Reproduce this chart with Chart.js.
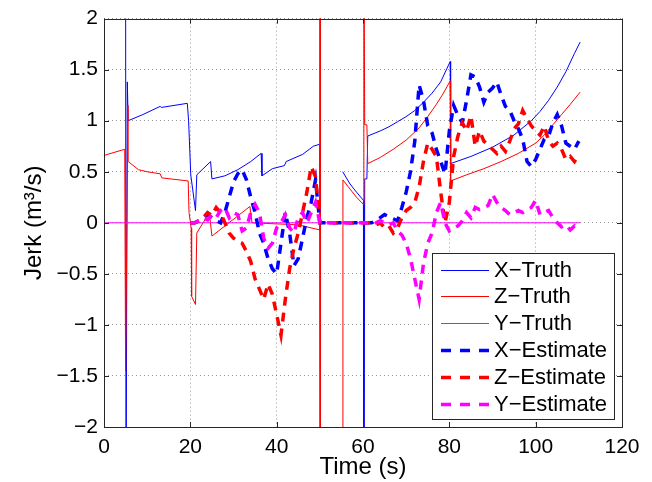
<!DOCTYPE html>
<html>
<head>
<meta charset="utf-8">
<script src="https://cdn.jsdelivr.net/npm/chart.js@4.4.1/dist/chart.umd.min.js"></script>
<style>
  html, body { margin: 0; padding: 0; background: #fff; }
  #graph { display: block; }
</style>
</head>
<body>
<canvas id="graph" width="652" height="482"></canvas>
<script>
// truth curves (time, value) -- null breaks the line
const xTruthT = [5.0, 5.1, 5.4, 5.6, 9, 13.0, 13.3, 19.3, 19.6, 20.1, 21.2, 21.5, 24.7, 25.0, 28, 31, 34, 36.4, 36.6, 39, 41.8, 42.2, 46, 48.5, 50.0, 50.1, 52,
    55.3, 57, 58.5, 60.1, 60.2, 60.4, 60.9, 61.1, 64, 66, 68, 70, 72, 74, 76, 78, 80.2, 80.3, 85, 90, 95, 99, 101, 103, 105, 107, 109, 110.3]
const xTruthV = [3, -3, 1.38, 1.0, 1.06, 1.14, 1.13, 1.17, 1.0, 0.47, 0.12, 0.47, 0.6, 0.43, 0.46, 0.52, 0.6, 0.68, 0.46, 0.53, 0.56, 0.6, 0.67, 0.75, 0.77, -3, null,
    0.5, 0.38, 0.3, 0.22, -3, 0.43, 0.43, 0.85, 0.9, 0.94, 0.99, 1.04, 1.1, 1.18, 1.27, 1.38, 1.58, 0.58, 0.65, 0.74, 0.86, 1.0, 1.09, 1.2, 1.33, 1.48, 1.66, 1.77]

const zTruthT = [0, 4.8, 5.0, 5.55, 5.6, 8, 10, 13.0, 13.4, 19.5, 19.7, 20.2, 20.3, 21.2, 21.5, 24.4, 25.0, 33.8, 34.3, 45, 50.0, 50.05, 50.1, 52,
    55.3, 55.35, 57, 58.5, 60.1, 60.2, 60.4, 60.9, 61.1, 64, 67, 70, 73, 75, 77, 78.5, 80.2, 80.3, 84, 88, 92, 96, 100, 102, 104, 106, 108, 110.3]
const zTruthV = [0.66, 0.72, -1.45, 1.15, 0.6, 0.52, 0.5, 0.48, 0.44, 0.41, 0.1, -0.05, -0.72, -0.8, -0.1, 0.1, -0.13, 0.16, 0.0, -0.02, -0.07, 3, -3, null,
    -3, 0.42, 0.33, 0.25, 0.18, 3, 0.96, 0.96, 0.58, 0.64, 0.72, 0.81, 0.93, 1.04, 1.16, 1.26, 1.39, 0.41, 0.47, 0.53, 0.6, 0.68, 0.78, 0.86, 0.96, 1.06, 1.16, 1.28]

const yTruthT = [0, 110.3]
const yTruthV = [0, 0]

// estimates, one value per second from 20 s to 110 s
const estT = Array.from({length: 91}, (_, i) => 20 + i)
const xEst = [0, 0, 0.02, 0.05, 0.08, 0.05, 0.02, 0.0, 0.1, 0.25, 0.4, 0.48, 0.52, 0.42, 0.25, 0.1, -0.1, -0.2, -0.35, -0.45,
    -0.5, -0.2, 0.1, -0.1, -0.42, -0.35, -0.15, 0.05, 0.2, 0.42,
    0, 0, 0, 0, 0, 0, 0, 0, 0, 0, 0,
    0, 0, 0.02, 0.05, 0.08, 0.06, 0.04, 0.02, 0.15, 0.3, 0.5, 0.8, 1.35, 1.2, 0.95, 0.88, 0.72, 0.6, 0.48, 0.9,
    1.15, 1.05, 0.98, 1.2, 1.45, 1.43, 1.33, 1.18, 1.28, 1.32, 1.38, 1.25, 1.14, 1.1, 1.0, 0.92, 0.82, 0.6, 0.55, 0.62,
    0.72, 0.82, 0.85, 0.98, 1.06, 0.95, 0.78, 0.75, 0.72, 0.8]
const zEst = [0, 0, 0.02, 0.05, 0.1, 0.07, 0.15, 0.1, 0.0, -0.1, -0.15, -0.18, -0.2, -0.28, -0.38, -0.55, -0.65, -0.75, -0.6, -0.7,
    -0.9, -1.1, -0.75, -0.45, -0.25, -0.1, 0.1, 0.3, 0.55, 0.45,
    0, 0, 0, 0, 0, 0, 0, 0, 0, 0, 0,
    0, 0, -0.02, 0.0, -0.05, -0.03, -0.1, -0.05, 0.05, 0.12, 0.15, 0.2, 0.35, 0.6, 0.78, 0.72, 0.65, 0.3, 0.0, 0.2,
    0.65, 0.85, 0.98, 0.9, 1.05, 0.75, 0.9, 0.8, 0.76, 0.72, 0.68, 0.75, 0.7, 0.8, 0.92, 0.97, 1.1, 1.02, 0.95, 0.9,
    0.86, 0.95, 0.8, 0.75, 0.78, 0.72, 0.62, 0.65, 0.6, 0.66]
const yEst = [0, 0, 0.02, 0.05, 0.03, 0.08, 0.05, 0.12, 0.15, 0.05, 0.1, 0.08, -0.08, -0.05, 0.1, 0.18, 0.1, -0.15, -0.25, -0.2,
    -0.05, 0.0, 0.08, -0.05, -0.1, 0.05, 0.1, 0.0, 0.1, 0.2,
    0, 0, 0, 0, 0, 0, 0, 0, 0, 0, 0,
    0, 0, 0.0, 0.02, 0.0, -0.02, 0.0, -0.08, -0.12, -0.2, -0.35, -0.55, -0.75, -0.4, -0.2, -0.1, 0.1, 0.2, 0.0, -0.08,
    -0.05, -0.03, 0.02, 0.1, 0.05, 0.15, 0.13, 0.15, 0.17, 0.28, 0.2, 0.15, 0.12, 0.08, 0.1, 0.12, 0.1, 0.13, 0.15, 0.22,
    0.08, 0.1, 0.12, 0.05, 0.0, -0.04, -0.02, -0.07, -0.03, -0.07]

const xTicks = [0, 20, 40, 60, 80, 100, 120]
const yTicks = [-2, -1.5, -1, -0.5, 0, 0.5, 1, 1.5, 2]

const FONT = "'Liberation Sans', Arial, sans-serif"
const pts = (t, v) => t.map((x, i) => ({x: x, y: v[i]}))

function truth(label, t, v, color, order) {
    return {label, data: pts(t, v), borderColor: color, borderWidth: 1, pointRadius: 0, order}
}
function estimate(label, v, color, order) {
    return {label, data: pts(estT, v), borderColor: color, borderWidth: 3.5, borderDash: [9, 7], pointRadius: 0, order}
}

// box round the axes, with inward ticks on all four sides
const frame = {
    id: "frame",
    afterDatasetsDraw(chart) {
        const {ctx, chartArea: a, scales} = chart
        ctx.save()
        ctx.strokeStyle = "#262626"
        ctx.lineWidth = 1
        ctx.beginPath()
        for (const v of xTicks) {
            const px = Math.round(scales.x.getPixelForValue(v)) + 0.5
            ctx.moveTo(px, a.bottom); ctx.lineTo(px, a.bottom - 5)
            ctx.moveTo(px, a.top); ctx.lineTo(px, a.top + 5)
        }
        for (const v of yTicks) {
            const py = Math.round(scales.y.getPixelForValue(v)) + 0.5
            ctx.moveTo(a.left, py); ctx.lineTo(a.left + 5, py)
            ctx.moveTo(a.right, py); ctx.lineTo(a.right - 5, py)
        }
        ctx.stroke()
        ctx.strokeRect(Math.round(a.left) + 0.5, Math.round(a.top) + 0.5, Math.round(a.right - a.left), Math.round(a.bottom - a.top))
        ctx.restore()
    }
}

// legend box inside the lower right corner of the plot
const boxLegend = {
    id: "boxLegend",
    afterDraw(chart) {
        const ctx = chart.ctx
        const x0 = 432, y0 = 253, w = 182, h = 166
        ctx.save()
        ctx.fillStyle = "#fff"
        ctx.fillRect(x0, y0, w, h)
        ctx.strokeStyle = "#262626"
        ctx.lineWidth = 1
        ctx.strokeRect(x0 + 0.5, y0 + 0.5, w, h)
        ctx.font = "22px " + FONT
        ctx.textBaseline = "middle"
        ctx.fillStyle = "#000"
        chart.data.datasets.forEach((ds, i) => {
            const y = Math.round(y0 + 16.5 + i * 26.8)
            ctx.strokeStyle = ds.borderColor
            ctx.lineWidth = ds.borderWidth
            ctx.setLineDash(ds.borderDash ? [10, 9] : [])
            ctx.beginPath()
            ctx.moveTo(441, y + 0.5)
            ctx.lineTo(489, y + 0.5)
            ctx.stroke()
            ctx.fillText(ds.label, 494, y + 1)
        })
        ctx.restore()
    }
}

const ctx = document.getElementById("graph").getContext("2d")

new Chart(ctx, {
    type: "line",
    data: {
        datasets: [
            truth("X\u2212Truth", xTruthT, xTruthV, "rgb(0,0,255)", 6),
            truth("Z\u2212Truth", zTruthT, zTruthV, "rgb(255,0,0)", 5),
            truth("Y\u2212Truth", yTruthT, yTruthV, "rgb(255,0,255)", 4),
            estimate("X\u2212Estimate", xEst, "rgb(0,0,255)", 3),
            estimate("Z\u2212Estimate", zEst, "rgb(255,0,0)", 2),
            estimate("Y\u2212Estimate", yEst, "rgb(255,0,255)", 1)
        ]
    },
    options: {
        responsive: false,
        animation: false,
        events: [],
        layout: {padding: {top: 15, right: 30, left: 0, bottom: 0}},
        plugins: {legend: {display: false}, tooltip: {enabled: false}},
        scales: {
            x: {
                type: "linear", min: 0, max: 120,
                afterBuildTicks: s => { s.ticks = xTicks.map(v => ({value: v})) },
                afterFit: s => { s.height = 55 },
                grid: {color: "rgba(0,0,0,0.4)", drawTicks: false},
                border: {display: false, dash: [1, 3]},
                ticks: {color: "#000", padding: 8, maxRotation: 0, font: {family: FONT, size: 21}},
                title: {display: true, text: "Time (s)", color: "#000", padding: {top: 0, bottom: 0}, font: {family: FONT, size: 24}}
            },
            y: {
                min: -2, max: 2,
                afterBuildTicks: s => { s.ticks = yTicks.map(v => ({value: v})) },
                afterFit: s => { s.width = 104 },
                grid: {color: "rgba(0,0,0,0.4)", drawTicks: false},
                border: {display: false, dash: [1, 3]},
                ticks: {color: "#000", padding: 6, font: {family: FONT, size: 21},
                    callback: v => String(v).replace("-", "\u2212")},
                title: {display: true, text: "Jerk (m\u00b3/s)", color: "#000", padding: {top: 20, bottom: 0}, font: {family: FONT, size: 24}}
            }
        }
    },
    plugins: [frame, boxLegend]
})
</script>
</body>
</html>
